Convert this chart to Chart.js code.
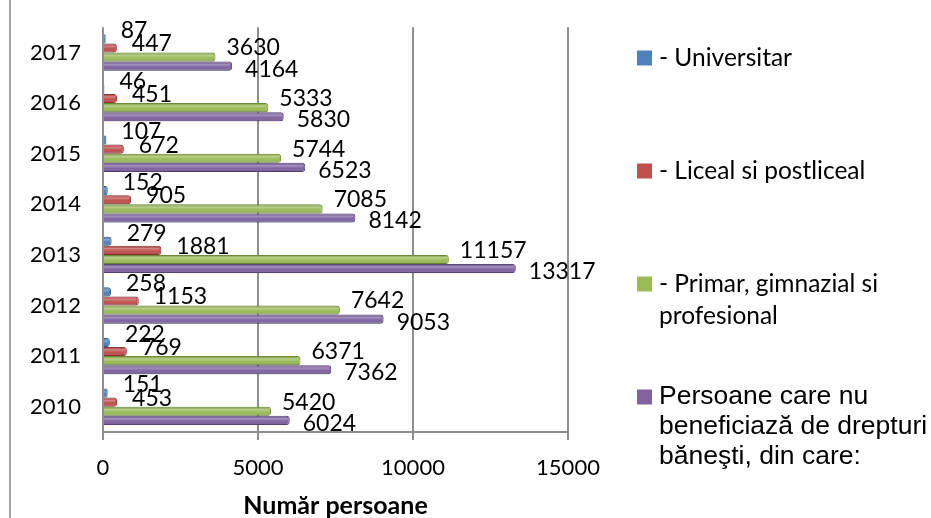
<!DOCTYPE html>
<html>
<head>
<meta charset="utf-8">
<script src="https://cdn.jsdelivr.net/npm/chart.js@4.4.0/dist/chart.umd.min.js"></script>
<style>
html, body { margin: 0; padding: 0; background: #fff; }
#wrap { position: relative; width: 931px; height: 518px; }
</style>
</head>
<body>
<div id="wrap"><canvas id="chart" width="931" height="518"></canvas></div>
<script>
// data
const years = ['2010', '2011', '2012', '2013', '2014', '2015', '2016', '2017'];
const universitar = [151, 222, 258, 279, 152, 107, 46, 87];
const liceal = [453, 769, 1153, 1881, 905, 672, 451, 447];
const primar = [5420, 6371, 7642, 11157, 7085, 5744, 5333, 3630];
const persoane = [6024, 7362, 9053, 13317, 8142, 6523, 5830, 4164];
const xTicks = [0, 5000, 10000, 15000];
const seriesNames = [
    ['- Universitar'],
    ['- Liceal si postliceal'],
    ['- Primar, gimnazial si', 'profesional'],
    ['Persoane care nu', 'beneficiază de drepturi', 'băneşti, din care:']
];

const colors = ['#4F81BD', '#C0504D', '#9BBB59', '#8064A2'];
const edgeColors = ['#3a6394', '#983a37', '#779439', '#5e4882'];
// label nudges per series (excel placed them a bit loosely)
const labelDx = [15, 15, 11, 13];
const labelDy = [-8, -4, -9, 3];
const gridGray = '#8e8e8e';

Chart.defaults.font.family = 'Lato';
Chart.defaults.color = '#000';

// thin frame line on the left, like the cropped chart border
const framePlugin = {
    id: 'frame',
    beforeDraw(chart) {
        const ctx = chart.ctx;
        ctx.save();
        ctx.strokeStyle = '#8a8a8a';
        ctx.lineWidth = 1.5;
        ctx.beginPath();
        ctx.moveTo(10, 0);
        ctx.lineTo(10, chart.height);
        ctx.stroke();
        ctx.restore();
    }
};

// fake cylinder shading over each bar
const shadePlugin = {
    id: 'shade',
    afterDatasetsDraw(chart) {
        const ctx = chart.ctx;
        chart.data.datasets.forEach((ds, di) => {
            chart.getDatasetMeta(di).data.forEach(bar => {
                const p = bar.getProps(['x', 'y', 'base', 'height']);
                const top = p.y - p.height / 2;
                const g = ctx.createLinearGradient(0, top, 0, top + p.height);
                g.addColorStop(0, 'rgba(0,0,0,0.05)');
                g.addColorStop(0.3, 'rgba(255,255,255,0.3)');
                g.addColorStop(0.6, 'rgba(255,255,255,0)');
                g.addColorStop(1, 'rgba(0,0,0,0.2)');
                ctx.save();
                ctx.fillStyle = g;
                ctx.fillRect(p.base, top, Math.max(0, p.x - p.base - 2), p.height);
                ctx.restore();
            });
        });
    }
};

const valuePlugin = {
    id: 'values',
    afterDatasetsDraw(chart) {
        const ctx = chart.ctx;
        ctx.save();
        ctx.font = '23px Lato';
        ctx.fillStyle = '#000';
        ctx.textAlign = 'left';
        ctx.textBaseline = 'middle';
        chart.data.datasets.forEach((ds, di) => {
            chart.getDatasetMeta(di).data.forEach((bar, i) => {
                const p = bar.getProps(['x', 'y']);
                ctx.fillText(String(ds.data[i]), p.x + labelDx[di], p.y + labelDy[di]);
            });
        });
        ctx.restore();
    }
};

// legend on the right, drawn by hand so the lines can wrap
const legendPlugin = {
    id: 'sideLegend',
    afterDraw(chart) {
        const ctx = chart.ctx;
        const boxX = 637, textX = 659, firstY = 58, step = 113, box = 15;
        ctx.save();
        ctx.textBaseline = 'middle';
        seriesNames.forEach((lines, i) => {
            const cy = firstY + i * step;
            const last = i === seriesNames.length - 1;
            ctx.fillStyle = colors[i];
            ctx.fillRect(boxX, cy - box / 2, box, box);
            ctx.fillStyle = '#000';
            ctx.font = last ? '26.5px "Liberation Sans"' : '24.5px Lato';
            const lh = last ? 30 : 32;
            lines.forEach((t, k) => ctx.fillText(t, textX, cy + k * lh));
        });
        ctx.restore();
    }
};

const seriesData = [universitar, liceal, primar, persoane];

new Chart(document.getElementById('chart'), {
    type: 'bar',
    data: {
        labels: years,
        datasets: seriesData.map((d, i) => ({
            label: seriesNames[i].join(' '),
            data: d,
            backgroundColor: colors[i],
            borderColor: edgeColors[i],
            borderWidth: 1,
            borderRadius: 3,
            categoryPercentage: 0.72,
            barPercentage: 1
        }))
    },
    options: {
        indexAxis: 'y',
        responsive: false,
        animation: false,
        layout: { padding: { left: 30, top: 22, right: 363, bottom: 0 } },
        plugins: {
            legend: { display: false },
            tooltip: { enabled: false }
        },
        scales: {
            x: {
                min: 0,
                max: 15000,
                afterBuildTicks: scale => { scale.ticks = xTicks.map(v => ({ value: v })); },
                afterFit: scale => { scale.height = 86; },
                grid: { color: gridGray, lineWidth: 2, tickLength: 8 },
                border: { display: true, color: gridGray, width: 2 },
                ticks: {
                    font: { size: 22 },
                    color: '#000',
                    padding: 15,
                    maxRotation: 0,
                    callback: v => String(v)
                },
                title: {
                    display: true,
                    text: 'Număr persoane',
                    font: { size: 25, weight: 'bold', lineHeight: 1 },
                    color: '#000',
                    padding: { top: 0, bottom: 0 }
                }
            },
            y: {
                reverse: true,
                afterFit: scale => { scale.width = 73; },
                grid: { display: false },
                border: { display: false },
                ticks: { font: { size: 22 }, color: '#000', padding: 14 }
            }
        }
    },
    plugins: [framePlugin, shadePlugin, valuePlugin, legendPlugin]
});
</script>
</body>
</html>
